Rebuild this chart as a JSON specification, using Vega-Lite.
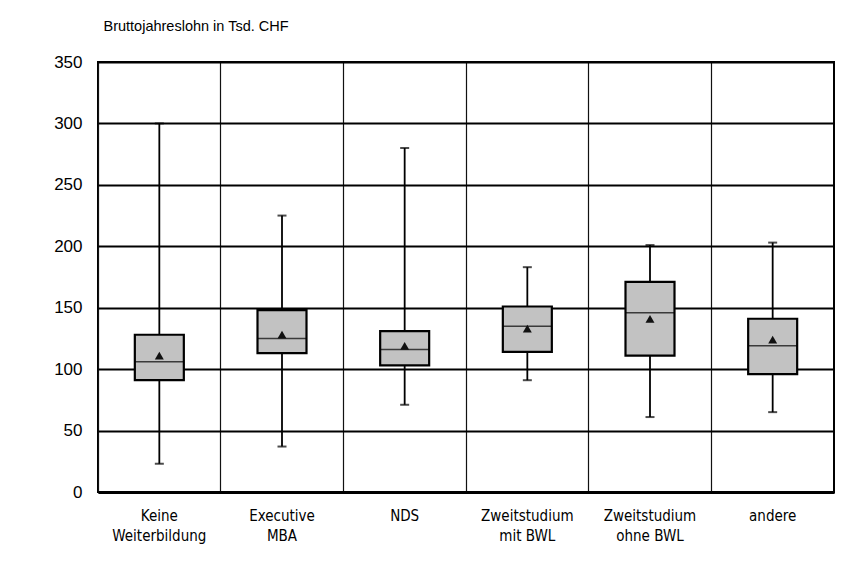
{
  "$schema": "https://vega.github.io/schema/vega-lite/v6.json",
  "width": 736,
  "height": 430,
  "autosize": "none",
  "padding": {"left": 98, "top": 62, "right": 30, "bottom": 71},
  "background": "white",
  "data": {
    "values": [
      {"gruppe": "Keine\nWeiterbildung", "lo": 23, "q1": 91, "med": 106, "q3": 128, "hi": 300, "mean": 111},
      {"gruppe": "Executive\nMBA", "lo": 37, "q1": 113, "med": 125, "q3": 148, "hi": 225, "mean": 128},
      {"gruppe": "NDS", "lo": 71, "q1": 103, "med": 116, "q3": 131, "hi": 280, "mean": 119},
      {"gruppe": "Zweitstudium\nmit BWL", "lo": 91, "q1": 114, "med": 135, "q3": 151, "hi": 183, "mean": 133},
      {"gruppe": "Zweitstudium\nohne BWL", "lo": 61, "q1": 111, "med": 146, "q3": 171, "hi": 201, "mean": 141},
      {"gruppe": "andere", "lo": 65, "q1": 96, "med": 119, "q3": 141, "hi": 203, "mean": 124}
    ]
  },
  "encoding": {
    "x": {
      "field": "gruppe",
      "type": "nominal",
      "sort": null,
      "title": null,
      "scale": {"type": "band", "paddingInner": 0, "paddingOuter": 0},
      "axis": {
        "grid": true,
        "bandPosition": 0,
        "gridColor": "#111111",
        "gridWidth": 1.2,
        "gridOpacity": 1,
        "ticks": false,
        "domain": true,
        "domainColor": "#000000",
        "domainWidth": 3,
        "labelAngle": 0,
        "labelAlign": "center",
        "labelBaseline": "top",
        "labelPadding": 16,
        "labelFont": "DejaVu Sans Condensed, Liberation Sans Narrow, sans-serif",
        "labelFontSize": 15,
        "labelLineHeight": 20,
        "labelColor": "#000000",
        "labelExpr": "split(datum.label, '\\n')"
      }
    }
  },
  "layer": [
    {
      "mark": {"type": "rule", "color": "#000000", "strokeWidth": 1.8},
      "encoding": {
        "y": {
          "field": "lo",
          "type": "quantitative",
          "title": "Bruttojahreslohn in Tsd. CHF",
          "scale": {"domain": [0, 350], "nice": false, "zero": true},
          "axis": {
            "values": [0, 50, 100, 150, 200, 250, 300, 350],
            "grid": true,
            "gridColor": "#000000",
            "gridWidth": 1.8,
            "gridOpacity": 1,
            "ticks": false,
            "domain": false,
            "labelPadding": 16,
            "labelFont": "Liberation Sans, Arial, sans-serif",
            "labelFontSize": 17,
            "labelColor": "#000000",
            "titleAngle": 0,
            "titleAlign": "left",
            "titleBaseline": "alphabetic",
            "titleX": 5,
            "titleY": -32,
            "titleFont": "Liberation Sans, Arial, sans-serif",
            "titleFontSize": 14.5,
            "titleFontWeight": "normal",
            "titleColor": "#000000"
          }
        },
        "y2": {"field": "hi"}
      }
    },
    {
      "mark": {"type": "tick", "color": "#000000", "size": 9, "thickness": 2},
      "encoding": {"y": {"field": "lo", "type": "quantitative", "title": "Bruttojahreslohn in Tsd. CHF"}}
    },
    {
      "mark": {"type": "tick", "color": "#000000", "size": 9, "thickness": 2},
      "encoding": {"y": {"field": "hi", "type": "quantitative", "title": "Bruttojahreslohn in Tsd. CHF"}}
    },
    {
      "mark": {"type": "bar", "fill": "#c2c2c2", "stroke": "#000000", "strokeWidth": 2.2, "width": 49},
      "encoding": {
        "y": {"field": "q1", "type": "quantitative", "title": "Bruttojahreslohn in Tsd. CHF"},
        "y2": {"field": "q3"}
      }
    },
    {
      "mark": {"type": "tick", "color": "#000000", "size": 49, "thickness": 1.5},
      "encoding": {"y": {"field": "med", "type": "quantitative", "title": "Bruttojahreslohn in Tsd. CHF"}}
    },
    {
      "mark": {"type": "point", "shape": "triangle-up", "filled": true, "color": "#111111", "size": 80, "opacity": 1},
      "encoding": {"y": {"field": "mean", "type": "quantitative", "title": "Bruttojahreslohn in Tsd. CHF"}}
    }
  ],
  "config": {
    "view": {"stroke": "#000000", "strokeWidth": 2},
    "axis": {"labelFontWeight": "normal"}
  }
}
